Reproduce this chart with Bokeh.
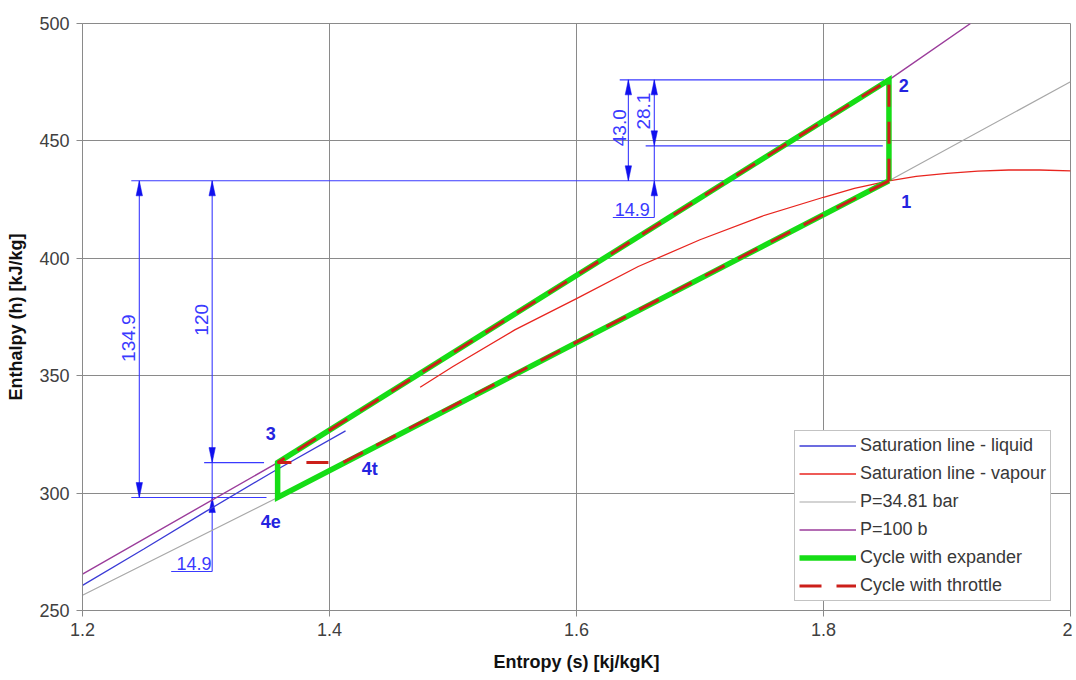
import numpy as np
from bokeh.plotting import figure
from bokeh.models import (ColumnDataSource, Range1d, FixedTicker, CustomJSTickFormatter,
                          Legend, LegendItem)
from bokeh.core.properties import value
from bokeh.embed import file_html
from bokeh.resources import INLINE

# ---------------- data ----------------
liq_s = [1.2, 1.25, 1.30, 1.354, 1.413]
liq_h = [260.7, 276.3, 292.2, 309.0, 326.5]

vap_s = [1.4734, 1.50, 1.55, 1.60, 1.65, 1.70, 1.75, 1.80, 1.825, 1.853, 1.875, 1.90,
         1.925, 1.95, 1.975, 2.0]
vap_h = [345.1, 353.9, 369.5, 382.8, 396.5, 407.9, 417.9, 426.0, 429.8, 433.0, 434.9, 436.2,
         437.1, 437.6, 437.6, 437.2]

p35_s = [1.2, 1.358, 1.853, 2.0]
p35_h = [256.5, 298.1, 433.0, 475.2]

p100_s = [1.2, 1.358, 1.853, 1.919]
p100_h = [265.5, 313.0, 476.0, 500.0]

state_names = ["1", "2", "3", "4e", "4t"]
state_s = [1.853, 1.853, 1.358, 1.358, 1.411]
state_h = [433.0, 476.0, 313.0, 298.1, 313.0]

expander_cycle = ["1", "2", "3", "4e", "1"]
throttle_cycle = ["1", "2", "3", "4t", "1"]

dim_values = [134.9, 120.0, 14.9, 43.0, 28.1, 14.9]
dim_labels = ["134.9", "120", "14.9", "43.0", "28.1", "14.9"]

x_ticks = [1.2, 1.4, 1.6, 1.8, 2.0]
y_ticks = [250, 300, 350, 400, 450, 500]

legend_labels = ["Saturation line - liquid", "Saturation line - vapour", "P=34.81 bar",
                 "P=100 b", "Cycle with expander", "Cycle with throttle"]

# ---------------- layout ----------------
FONT = "Liberation Sans"
W, H = 1072, 677
MB_L, MB_R, MB_T, MB_B = 82, 2, 23, 67
FW, FH = W - MB_L - MB_R, H - MB_T - MB_B
XR, YR = (1.2, 2.0), (250, 500)
kx = FW / (XR[1] - XR[0])
ky = FH / (YR[1] - YR[0])

st = dict(zip(state_names, zip(state_s, state_h)))
h1, h2, h3, h4e = st["1"][1], st["2"][1], st["3"][1], st["4e"][1]
s1 = st["1"][0]
h_mid = h2 - dim_values[4]

p = figure(width=W, height=H, output_backend="svg", toolbar_location=None,
           x_range=Range1d(*XR), y_range=Range1d(*YR),
           min_border_left=MB_L, min_border_right=MB_R, min_border_top=MB_T, min_border_bottom=MB_B)
p.background_fill_color = "white"
p.border_fill_color = "white"
p.outline_line_color = "#8a8a8a"

GRID = "#8a8a8a"
for ax, tk in ((p.xaxis[0], x_ticks), (p.yaxis[0], y_ticks)):
    ax.ticker = FixedTicker(ticks=tk)
    ax.major_label_text_font = FONT
    ax.major_label_text_font_size = "18px"
    ax.major_label_text_color = "#404040"
    ax.axis_label_text_font = FONT
    ax.axis_label_text_font_size = "18px"
    ax.axis_label_text_font_style = "bold"
    ax.axis_label_text_color = "#111111"
    ax.axis_line_color = GRID
    ax.major_tick_line_color = GRID
    ax.major_tick_out = 6
    ax.major_tick_in = 0
    ax.minor_tick_line_color = None
p.xaxis[0].formatter = CustomJSTickFormatter(
    code="return Math.abs(tick - Math.round(tick)) < 1e-9 ? tick.toFixed(0) : tick.toFixed(1);")
p.xaxis[0].axis_label = "Entropy (s) [kj/kgK]"
p.yaxis[0].axis_label = "Enthalpy (h) [kJ/kg]"
p.xaxis[0].major_label_standoff = 6
p.xaxis[0].axis_label_standoff = 13
p.yaxis[0].major_label_standoff = 7
p.yaxis[0].axis_label_standoff = 10
for g in (p.xgrid[0], p.ygrid[0]):
    g.grid_line_color = GRID
    g.grid_line_width = 1
p.xgrid[0].ticker = FixedTicker(ticks=x_ticks)
p.ygrid[0].ticker = FixedTicker(ticks=y_ticks)

# ---------------- dimension annotations ----------------
DIM = "#3a3aff"
xA, xB, xC, xD = 1.246, 1.305, 1.642, 1.663
under_lo, under_hi = 266.6, 417.4
segs = [
    ((1.2395, s1), (h1, h1)),
    ((1.2395, 1.349), (h4e, h4e)),
    ((1.2985, 1.347), (h3, h3)),
    ((xA, xA), (h1, h4e)),
    ((xB, xB), (h1, under_lo)),
    ((1.2718, xB), (under_lo, under_lo)),
    ((1.635, 1.849), (h2, h2)),
    ((1.656, 1.848), (h_mid, h_mid)),
    ((xC, xC), (h2, h1)),
    ((xD, xD), (h2, under_hi)),
    ((1.6294, xD), (under_hi, under_hi)),
]
p.multi_line(xs=[list(a) for a, b in segs], ys=[list(b) for a, b in segs],
             line_color=DIM, line_width=1.1)

AL, AW = 15, 3.2
tips = [(xA, h1, 1), (xA, h4e, -1), (xB, h1, 1), (xB, h3, -1), (xB, h4e, 1),
        (xC, h2, 1), (xC, h1, -1), (xD, h2, 1), (xD, h_mid, -1), (xD, h1, 1)]
tx, ty = [], []
for s, h, d in tips:
    tx.append([s, s - AW / kx, s + AW / kx])
    ty.append([h, h - d * AL / ky, h - d * AL / ky])
p.patches(xs=tx, ys=ty, fill_color="#1010ee", line_color="#1010ee", line_width=0.5)

rot = ColumnDataSource(dict(x=[1.2371, 1.2966, 1.635, 1.654], y=[366.0, 373.8, 455.6, 462.7],
                            t=[dim_labels[0], dim_labels[1], dim_labels[3], dim_labels[4]]))
p.text(x="x", y="y", text="t", source=rot, angle=np.pi / 2, text_align="center",
       text_baseline="middle", text_font=value(FONT), text_font_size="19px", text_color=DIM)
hor = ColumnDataSource(dict(x=[1.3045, 1.6594], y=[under_lo + 0.6, under_hi + 0.6],
                            t=[dim_labels[2], dim_labels[5]]))
p.text(x="x", y="y", text="t", source=hor, text_align="right", text_baseline="bottom",
       text_font=value(FONT), text_font_size="18px", text_color=DIM)

# ---------------- property lines ----------------
r_p35 = p.line(p35_s, p35_h, line_color="#a8a8a8", line_width=1.2)
r_p100 = p.line(p100_s, p100_h, line_color="#9b3d9b", line_width=1.4)
r_liq = p.line(liq_s, liq_h, line_color="#3b3bd6", line_width=1.3)
r_vap = p.line(vap_s, vap_h, line_color="#e8251f", line_width=1.3)

exp_s = [st[n][0] for n in expander_cycle]
exp_h = [st[n][1] for n in expander_cycle]
thr_s = [st[n][0] for n in throttle_cycle]
thr_h = [st[n][1] for n in throttle_cycle]
r_exp = p.line(exp_s, exp_h, line_color="#16dd16", line_width=5.5, line_join="miter")
r_thr = p.line(thr_s, thr_h, line_color="#cc1f1a", line_width=3, line_dash="22 15")

# ---------------- state labels ----------------
lab = ColumnDataSource(dict(x=[1.867, 1.865, 1.3525, 1.3525, 1.4325],
                            y=[424.3, 473.6, 325.3, 287.8, 310.4],
                            t=["1", "2", "3", "4e", "4t"]))
p.text(x="x", y="y", text="t", source=lab, text_align="center", text_baseline="middle",
       text_font=value(FONT), text_font_size="18px", text_font_style="bold", text_color="#2424e0")

# ---------------- legend ----------------
legend = Legend(items=[LegendItem(label=l, renderers=[r]) for l, r in
                       zip(legend_labels, [r_liq, r_vap, r_p35, r_p100, r_exp, r_thr])],
                location=(712, 9))
legend.label_text_font = FONT
legend.label_text_font_size = "18px"
legend.label_text_color = "#383838"
legend.border_line_color = "#888888"
legend.border_line_width = 1
legend.background_fill_alpha = 1
legend.padding = 4
legend.spacing = 7
legend.label_height = 21
legend.glyph_height = 21
legend.glyph_width = 57
legend.label_standoff = 4
legend.margin = 0
p.add_layout(legend)

open("out.html", "w").write(file_html(p, INLINE))
